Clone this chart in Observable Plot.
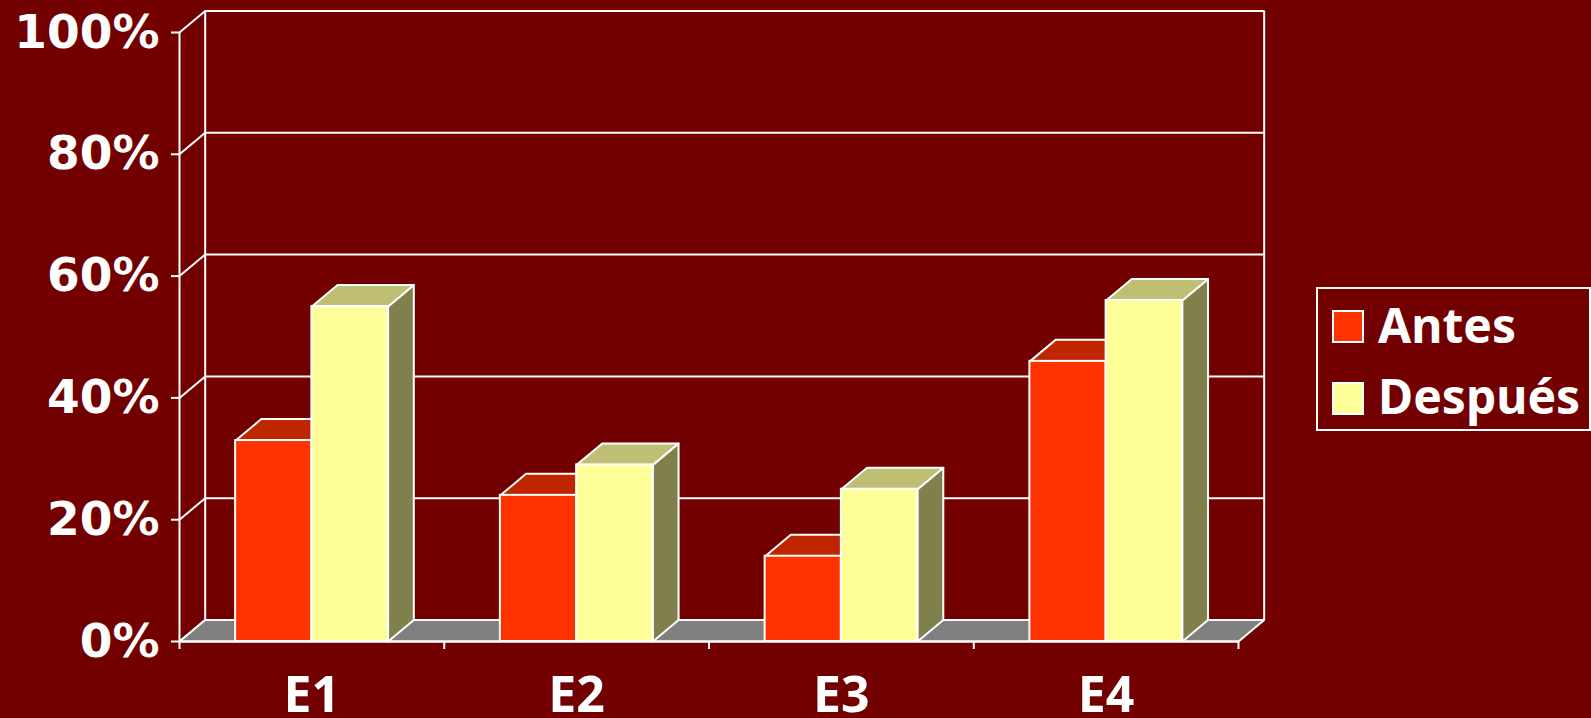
<!DOCTYPE html>
<html>
<head>
<meta charset="utf-8">
<script src="https://cdn.jsdelivr.net/npm/d3@7"></script>
<script src="https://cdn.jsdelivr.net/npm/@observablehq/plot@0.6"></script>
<style>
  html, body { margin: 0; padding: 0; background: #720000; }
  #wrap { position: relative; width: 1591px; height: 718px; overflow: hidden; }
  #legend {
    position: absolute; left: 1316px; top: 287px; width: 275px; height: 144px;
    box-sizing: border-box; border: 2px solid #fff;
    font-family: "Noto Sans", sans-serif; font-weight: bold; font-size: 48px; color: #fff;
  }
  .sw { position: absolute; left: 14px; width: 32px; height: 33px; box-sizing: border-box; border: 2px solid #fff; }
  .lbl { position: absolute; left: 60px; line-height: 1; white-space: nowrap; }
</style>
</head>
<body>
<div id="wrap"><div id="legend"></div></div>
<script>
// Categories and series values (fractions of 100%)
const categories = ["E1", "E2", "E3", "E4"];
const seriesNames = ["Antes", "Después"];
const antes = [0.33, 0.24, 0.14, 0.46];
const despues = [0.55, 0.29, 0.25, 0.56];
const yTicks = [0, 0.2, 0.4, 0.6, 0.8, 1];

// Face colours for the pseudo-3D columns
const palette = {
  "Antes":   {front: "#FF3300", top: "#BF2600", side: "#801A00"},
  "Después": {front: "#FFFF99", top: "#BFBF73", side: "#80804D"}
};

// Depth of the 3D box, in scale units (x: categories, y: value)
const DX = 0.097, DY = 0.0353;
const GAP = 0.212; // space between the category edge and the first column

const seriesValues = {"Antes": antes, "Después": despues};
const bars = categories.flatMap((cat, i) => seriesNames.map((s, j) => ({
  cat, series: s, value: seriesValues[s][i],
  x1: i + (j === 0 ? GAP : 0.5),
  x2: i + (j === 0 ? 0.5 : 1 - GAP)
})));

const poly = (key, pts) => pts.map(([x, y]) => ({key, x, y}));
const topFace = b => poly(b.series + b.cat, [[b.x1, b.value], [b.x2, b.value], [b.x2 + DX, b.value + DY], [b.x1 + DX, b.value + DY]]);
const sideFace = b => poly(b.series + b.cat, [[b.x2, 0], [b.x2, b.value], [b.x2 + DX, b.value + DY], [b.x2 + DX, DY]]);

const n = categories.length;
const floor = poly("floor", [[0, 0], [n, 0], [n + DX, DY], [DX, DY]]);

const line = {stroke: "#fff", strokeWidth: 2};

const barMarks = seriesNames.flatMap(s => {
  const bs = bars.filter(b => b.series === s);
  const c = palette[s];
  return [
    Plot.line(bs.flatMap(sideFace), {x: "x", y: "y", z: "key", curve: "linear-closed", fill: c.side, ...line}),
    Plot.line(bs.flatMap(topFace), {x: "x", y: "y", z: "key", curve: "linear-closed", fill: c.top, ...line}),
    Plot.rect(bs, {x1: "x1", x2: "x2", y1: d => 0, y2: "value", fill: c.front, ...line})
  ];
});

const chart = Plot.plot({
  width: 1591,
  height: 718,
  marginLeft: 179,
  marginRight: 353,
  marginTop: 32,
  marginBottom: 77,
  style: {background: "#720000", color: "#fff", overflow: "visible"},
  x: {domain: [0, n], axis: null},
  y: {domain: [0, 1], axis: null},
  marks: [
    // back wall gridlines and edges
    Plot.ruleY(yTicks, {y: d => d + DY, x1: DX, x2: n + DX, ...line}),
    Plot.ruleX([DX, n + DX], {x: d => d, y1: DY, y2: 1 + DY, ...line}),
    // side wall: front edge and diagonals at each tick
    Plot.ruleX([0], {y1: 0, y2: 1, ...line}),
    Plot.link(yTicks, {x1: d => 0, y1: d => d, x2: d => DX, y2: d => d + DY, ...line}),
    // floor
    Plot.line(floor, {x: "x", y: "y", z: "key", curve: "linear-closed", fill: "#808080", ...line}),
    // columns
    ...barMarks,
    // front base line
    Plot.ruleY([0], {x1: 0, x2: n, ...line}),
    // value axis
    Plot.axisY({
      ticks: yTicks, tickFormat: d3.format(".0%"), tickSize: 8, tickPadding: 12,
      stroke: "#fff", strokeWidth: 2,
      fontFamily: "DejaVu Sans", fontWeight: "bold", fontSize: 47, fill: "#fff"
    }),
    // category boundary ticks
    Plot.axisX({ticks: d3.range(n + 1), tickSize: 8, tickFormat: () => "", stroke: "#fff", strokeWidth: 2}),
    // category labels
    Plot.axisX({
      ticks: categories.map((c, i) => i + 0.5), tickFormat: d => categories[Math.floor(d)],
      tickSize: 0, tickPadding: 35,
      fontFamily: "Noto Sans", fontWeight: "bold", fontSize: 50, fill: "#fff"
    })
  ]
});

const wrap = document.getElementById("wrap");
wrap.insertBefore(chart, wrap.firstChild);

// Legend
const legend = document.getElementById("legend");
seriesNames.forEach((s, j) => {
  const sw = document.createElement("div");
  sw.className = "sw";
  sw.style.top = (21 + j * 72) + "px";
  sw.style.background = palette[s].front;
  legend.appendChild(sw);
  const lbl = document.createElement("div");
  lbl.className = "lbl";
  lbl.style.top = (12 + j * 71) + "px";
  lbl.textContent = s;
  legend.appendChild(lbl);
});
</script>
</body>
</html>
